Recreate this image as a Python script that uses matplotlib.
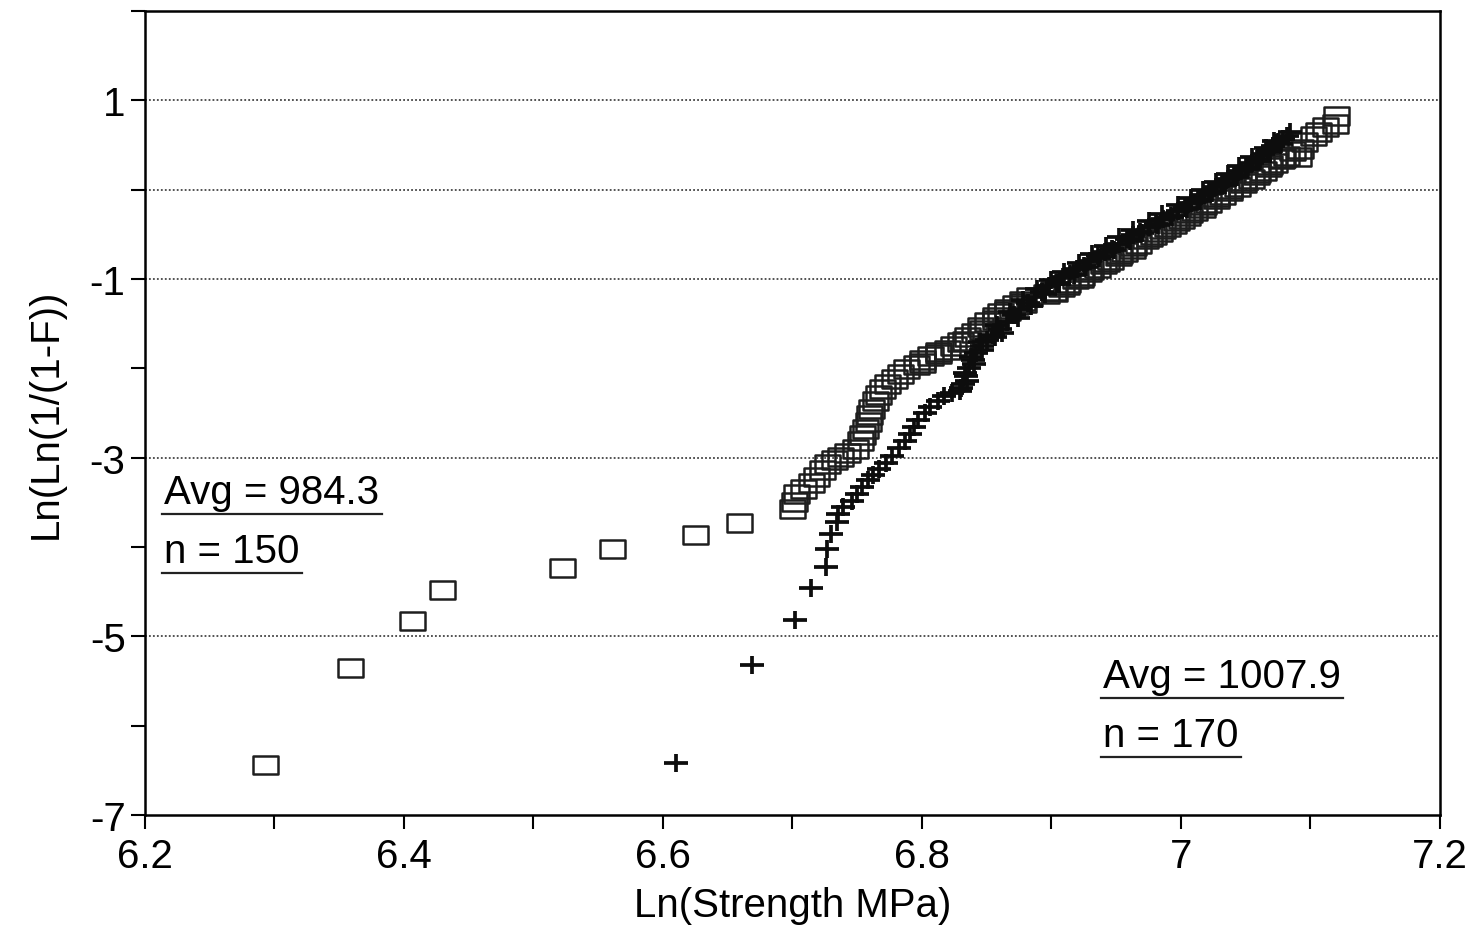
import matplotlib
matplotlib.use('Agg')
import matplotlib.pyplot as plt
from matplotlib.path import Path
from matplotlib.lines import Line2D

plt.rcParams['font.family'] = ['Liberation Sans', 'DejaVu Sans']

# squares: n = 150 specimens
sq_x = [6.293, 6.358, 6.406, 6.429, 6.522, 6.561, 6.625, 6.659,
        6.700, 6.701, 6.703, 6.708, 6.714, 6.718, 6.723, 6.727, 6.732, 6.737,
        6.742, 6.748, 6.752, 6.754, 6.756, 6.758, 6.759, 6.761, 6.764, 6.766,
        6.769, 6.773, 6.778, 6.783, 6.788, 6.795, 6.800, 6.806, 6.812, 6.819,
        6.824, 6.829, 6.835, 6.840, 6.845, 6.850, 6.856, 6.860, 6.866, 6.872,
        6.877, 6.883,
        6.800, 6.812, 6.833, 6.846, 6.856, 6.866, 6.878,
        6.896, 6.901, 6.907, 6.912, 6.918, 6.923, 6.928, 6.935, 6.940, 6.945,
        6.951, 6.956, 6.962, 6.967, 6.972, 6.978, 6.983, 6.989, 6.994, 7.000,
        7.005, 7.010, 7.016, 7.021, 7.027, 7.032, 7.037, 7.043, 7.048, 7.054,
        7.058, 7.063, 7.067, 7.072, 7.077, 7.081, 7.086,
        6.902, 6.911, 6.922, 6.930, 6.942, 6.952, 6.963, 6.975, 6.985, 6.996,
        7.006, 7.017, 7.027, 7.037, 7.048, 7.059, 7.068, 7.078,
        7.090, 7.092, 7.095, 7.102, 7.106, 7.111, 7.119, 7.120]
sq_y = [-6.44, -5.35, -4.83, -4.48, -4.24, -4.02, -3.87, -3.73,
        -3.58, -3.50, -3.41, -3.35, -3.28, -3.22, -3.14, -3.07, -3.03, -2.99,
        -2.95, -2.90, -2.81, -2.75, -2.68, -2.60, -2.52, -2.45, -2.37, -2.30,
        -2.23, -2.18, -2.12, -2.06, -2.01, -1.96, -1.91, -1.86, -1.82, -1.79,
        -1.75, -1.71, -1.65, -1.60, -1.54, -1.48, -1.43, -1.38, -1.34, -1.29,
        -1.25, -1.20,
        -1.94, -1.84, -1.69, -1.57, -1.46, -1.36, -1.27,
        -1.17, -1.13, -1.09, -1.05, -1.00, -0.97, -0.92, -0.88, -0.83, -0.79,
        -0.74, -0.70, -0.66, -0.61, -0.55, -0.51, -0.47, -0.42, -0.38, -0.33,
        -0.29, -0.24, -0.20, -0.15, -0.11, -0.06, -0.02, 0.03, 0.07, 0.12,
        0.16, 0.21, 0.25, 0.30, 0.34, 0.38, 0.43,
        -1.15, -1.07, -0.99, -0.90, -0.81, -0.72, -0.63, -0.53, -0.44, -0.35,
        -0.26, -0.17, -0.08, 0.01, 0.10, 0.19, 0.28, 0.36,
        0.37, 0.45, 0.53, 0.60, 0.65, 0.70, 0.73, 0.82]

# pluses: n = 170 specimens
pl_x = [6.610, 6.669, 6.702, 6.714, 6.726, 6.727, 6.730, 6.734, 6.735, 6.739,
        6.746, 6.750, 6.754, 6.758, 6.762, 6.767, 6.772, 6.777, 6.782, 6.787,
        6.791, 6.794, 6.797, 6.802, 6.806, 6.812, 6.817, 6.823, 6.829, 6.832,
        6.834, 6.836, 6.839, 6.842, 6.846, 6.850, 6.855, 6.860, 6.866, 6.871,
        6.876, 6.882, 6.887, 6.893, 6.898, 6.904, 6.909, 6.914, 6.920, 6.925,
        6.930, 6.936, 6.941, 6.947, 6.952, 6.958, 6.963, 6.968, 6.975, 6.981,
        6.986, 6.992, 6.998, 7.003, 7.008, 7.013, 7.018, 7.022, 7.027, 7.032,
        7.036, 7.041, 7.046, 7.050, 7.055, 7.059, 7.063, 7.067, 7.071, 7.075,
        7.079, 7.084,
        6.830, 6.835, 6.833, 6.840, 6.838, 6.846, 6.845, 6.856,
        6.862, 6.858, 6.874, 6.868, 6.884, 6.878, 6.895, 6.889, 6.906, 6.900,
        6.917, 6.910, 6.927, 6.921, 6.937, 6.931, 6.948, 6.942, 6.961, 6.952,
        6.970, 6.963, 6.982, 6.975, 6.993, 6.985, 7.005, 6.998, 7.015, 7.008,
        7.024, 7.017, 7.034, 7.027, 7.043, 7.036, 7.052, 7.045, 7.061, 7.055,
        7.069, 7.066, 7.077, 7.072, 7.082]
pl_y = [-6.42, -5.32, -4.82, -4.46, -4.22, -4.02, -3.85, -3.72, -3.63, -3.55,
        -3.49, -3.41, -3.33, -3.25, -3.19, -3.13, -3.06, -2.98, -2.89, -2.81,
        -2.74, -2.66, -2.58, -2.50, -2.43, -2.37, -2.31, -2.28, -2.25, -2.18,
        -2.09, -2.00, -1.91, -1.83, -1.75, -1.68, -1.63, -1.56, -1.48, -1.40,
        -1.34, -1.27, -1.20, -1.14, -1.08, -1.04, -0.98, -0.94, -0.89, -0.85,
        -0.80, -0.74, -0.70, -0.66, -0.61, -0.55, -0.51, -0.47, -0.42, -0.38,
        -0.33, -0.29, -0.24, -0.20, -0.15, -0.11, -0.06, -0.02, 0.03, 0.07,
        0.12, 0.16, 0.21, 0.25, 0.30, 0.34, 0.40, 0.44, 0.49, 0.53,
        0.57, 0.64,
        -2.22, -2.14, -2.05, -1.95, -1.87, -1.79, -1.71, -1.65,
        -1.60, -1.52, -1.44, -1.37, -1.30, -1.24, -1.17, -1.11, -1.06, -1.01,
        -0.96, -0.92, -0.87, -0.82, -0.77, -0.72, -0.68, -0.63, -0.58, -0.53,
        -0.49, -0.45, -0.40, -0.35, -0.31, -0.27, -0.22, -0.17, -0.13, -0.09,
        -0.04, 0.00, 0.05, 0.09, 0.14, 0.18, 0.23, 0.27, 0.32, 0.37,
        0.42, 0.47, 0.51, 0.55, 0.60]

grid_levels = [1, 0, -1, -3, -5]
x_ticks = [6.2, 6.3, 6.4, 6.5, 6.6, 6.7, 6.8, 6.9, 7.0, 7.1, 7.2]
x_labels = ['6.2', '', '6.4', '', '6.6', '', '6.8', '', '7', '', '7.2']
y_ticks = [2, 1, 0, -1, -2, -3, -4, -5, -6, -7]
y_labels = ['', '1', '', '-1', '', '-3', '', '-5', '', '-7']
notes_sq = ['Avg = 984.3', 'n = 150']
notes_pl = ['Avg = 1007.9', 'n = 170']

# wide open rectangle and wide plus, like the scanned markers
rect = Path([(-1, -0.7), (1, -0.7), (1, 0.7), (-1, 0.7), (-1, -0.7)],
            [Path.MOVETO, Path.LINETO, Path.LINETO, Path.LINETO, Path.CLOSEPOLY])
plus = Path([(-1, 0), (1, 0), (0, -0.7), (0, 0.7)],
            [Path.MOVETO, Path.LINETO, Path.MOVETO, Path.LINETO])

fs = 29

fig = plt.figure(figsize=(14.72, 9.29), dpi=100)
ax = fig.add_axes([145/1472, 1-816/929, 1295/1472, 804/929])

for g in grid_levels:
    ax.axhline(g, color='#444444', lw=1.3, ls=(0, (1, 1.2)), zorder=1)

ax.plot(sq_x, sq_y, ls='none', marker=rect, ms=18, mfc='none',
        mec='#1e1e1e', mew=1.8, zorder=3)
ax.plot(pl_x, pl_y, ls='none', marker=plus, ms=17.5, mfc='none',
        mec='#0d0d0d', mew=2.7, zorder=4)

ax.set_xlim(6.2, 7.2)
ax.set_ylim(-7, 2)
ax.set_xticks(x_ticks)
ax.set_xticklabels(x_labels)
ax.set_yticks(y_ticks)
ax.set_yticklabels(y_labels)
ax.tick_params(direction='out', length=10, width=1.5, labelsize=fs, pad=4)
ax.tick_params(axis='x', pad=6)
for s in ax.spines.values():
    s.set_linewidth(1.8)

ax.set_xlabel('Ln(Strength MPa)', fontsize=fs, labelpad=8)
ax.set_ylabel('Ln(Ln(1/(1-F))', fontsize=fs, labelpad=18)

texts = []
texts.append(ax.text(6.215, -3.51, notes_sq[0], fontsize=fs, va='baseline'))
texts.append(ax.text(6.215, -4.17, notes_sq[1], fontsize=fs, va='baseline'))
texts.append(ax.text(6.940, -5.57, notes_pl[0], fontsize=fs, va='baseline'))
texts.append(ax.text(6.940, -6.23, notes_pl[1], fontsize=fs, va='baseline'))

# underline each note
fig.canvas.draw()
inv = fig.transFigure.inverted()
for t in texts:
    bb = t.get_window_extent()
    base = ax.transData.transform(t.get_position())[1] - 11
    p0 = inv.transform((bb.x0 - 2, base))
    p1 = inv.transform((bb.x1 + 2, base))
    fig.add_artist(Line2D([p0[0], p1[0]], [p0[1], p1[1]], color='#222222', lw=1.6))

fig.savefig('out.png', dpi=100)
